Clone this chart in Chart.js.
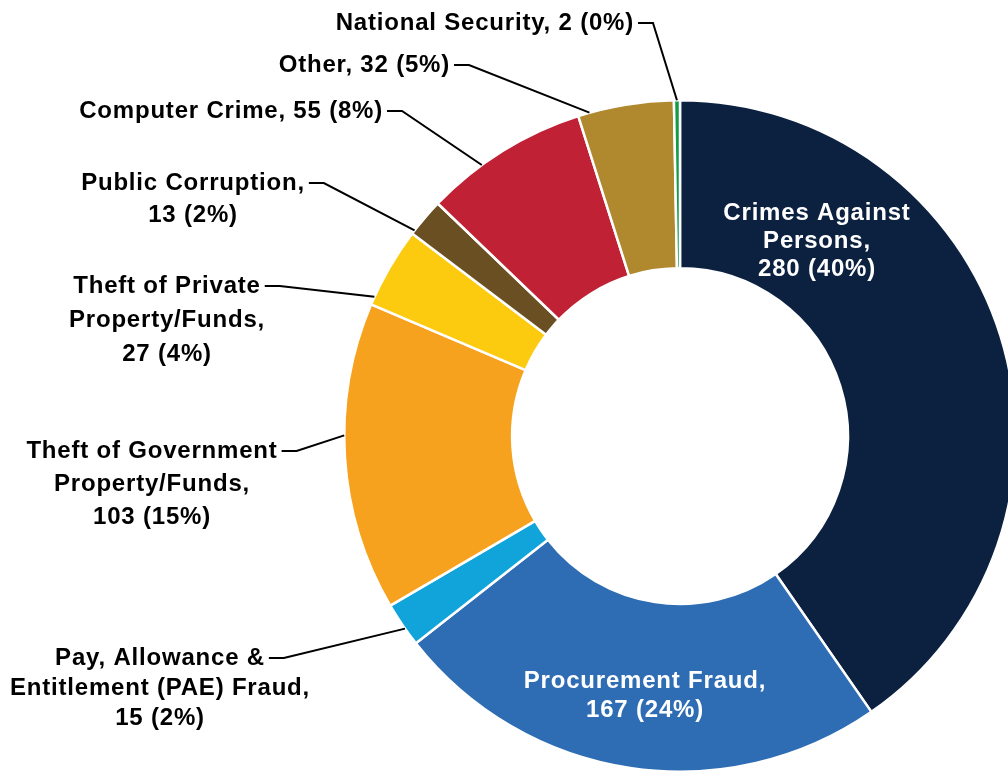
<!DOCTYPE html>
<html>
<head>
<meta charset="utf-8">
<title>Cases by Category</title>
<script src="https://cdn.jsdelivr.net/npm/chart.js@4"></script>
<style>
    html, body { margin: 0; padding: 0; background: #fff; overflow: hidden; }
    #wrap { position: absolute; left: 0; top: 0; width: 1030px; height: 777px; }
</style>
</head>
<body>
<div id="wrap"><canvas id="caseChart"></canvas></div>
<script>
// Data
const categories = [
    'Crimes Against\nPersons',
    'Procurement Fraud',
    'Pay, Allowance &\nEntitlement (PAE) Fraud',
    'Theft of Government\nProperty/Funds',
    'Theft of Private\nProperty/Funds',
    'Public Corruption',
    'Computer Crime',
    'Other',
    'National Security'
];
const caseCounts = [280, 167, 15, 103, 27, 13, 55, 32, 2];
const sliceColors = ['#0c2140', '#2e6db4', '#10a4db', '#f7a21e', '#fccb0f', '#6a4f22', '#c02134', '#b0892f', '#159a48'];

// Label placement (layout only)
const labelLayout = [
    { x: 817, y: 213, lh: 28, align: 'center', color: '#fff', inside: true, valueNewLine: true },
    { x: 645, y: 681, lh: 29, align: 'center', color: '#fff', inside: true, valueNewLine: true },
    { x: 160, y: 658, lh: 30, align: 'center', color: '#000', anchor: 0.4, valueNewLine: true },
    { x: 152, y: 451, lh: 33, align: 'center', color: '#000', anchor: 0.57, valueNewLine: true },
    { x: 167, y: 286, lh: 34, align: 'center', color: '#000', anchor: 0.1, valueNewLine: true },
    { x: 193, y: 183, lh: 32, align: 'center', color: '#000', anchor: 0.1, valueNewLine: true },
    { x: 383, y: 111, lh: 30, align: 'right', color: '#000', anchor: 0.35, valueNewLine: false },
    { x: 450, y: 65, lh: 30, align: 'right', color: '#000', anchor: 0.12, valueNewLine: false },
    { x: 634, y: 23, lh: 30, align: 'right', color: '#000', anchor: 0.5, valueNewLine: false }
];

const labelFont = 'bold 24px "Liberation Sans", Arial, sans-serif';

function labelLines(i, total) {
    const pct = Math.round(caseCounts[i] / total * 100);
    const valueText = caseCounts[i] + ' (' + pct + '%)';
    const lines = categories[i].split('\n');
    lines[lines.length - 1] += ',';
    if (labelLayout[i].valueNewLine) {
        lines.push(valueText);
    } else {
        lines[lines.length - 1] += ' ' + valueText;
    }
    return lines;
}

// Draws the callout labels and leader lines
const calloutPlugin = {
    id: 'callouts',
    afterDatasetsDraw(chart) {
        const ctx = chart.ctx;
        const meta = chart.getDatasetMeta(0);
        const total = caseCounts.reduce((a, b) => a + b, 0);

        ctx.save();
        ctx.font = labelFont;
        ctx.letterSpacing = '0.8px';
        ctx.textBaseline = 'middle';

        meta.data.forEach((arc, i) => {
            const lay = labelLayout[i];
            const lines = labelLines(i, total);
            ctx.fillStyle = lay.color;

            let firstRight;
            lines.forEach((line, k) => {
                const w = ctx.measureText(line).width;
                const y = lay.y + k * lay.lh;
                if (lay.align === 'right') {
                    ctx.textAlign = 'right';
                    ctx.fillText(line, lay.x, y);
                    if (k === 0) firstRight = lay.x;
                } else {
                    ctx.textAlign = 'center';
                    ctx.fillText(line, lay.x, y);
                    if (k === 0) firstRight = lay.x + w / 2;
                }
            });

            if (lay.inside) return;

            // leader line from end of first line to the slice edge
            const p = arc.getProps(['x', 'y', 'startAngle', 'endAngle', 'outerRadius'], true);
            const ang = p.startAngle + lay.anchor * (p.endAngle - p.startAngle);
            const ax = p.x + Math.cos(ang) * p.outerRadius;
            const ay = p.y + Math.sin(ang) * p.outerRadius;
            const sx = firstRight + 4;
            const sy = lay.y;

            ctx.beginPath();
            ctx.strokeStyle = '#000';
            ctx.lineWidth = 2;
            ctx.moveTo(sx, sy);
            ctx.lineTo(sx + 15, sy);
            ctx.lineTo(ax, ay);
            ctx.stroke();
        });
        ctx.restore();
    }
};

const ctx = document.getElementById('caseChart').getContext('2d');
new Chart(ctx, {
    type: 'doughnut',
    data: {
        labels: categories,
        datasets: [{
            data: caseCounts,
            backgroundColor: sliceColors,
            borderColor: '#ffffff',
            borderWidth: 2.5
        }]
    },
    options: {
        responsive: true,
        maintainAspectRatio: false,
        animation: false,
        cutout: '50%',
        layout: {
            padding: { left: 343, right: 13, top: 99, bottom: 4 }
        },
        plugins: {
            legend: { display: false },
            tooltip: { enabled: false }
        }
    },
    plugins: [calloutPlugin]
});
</script>
</body>
</html>
